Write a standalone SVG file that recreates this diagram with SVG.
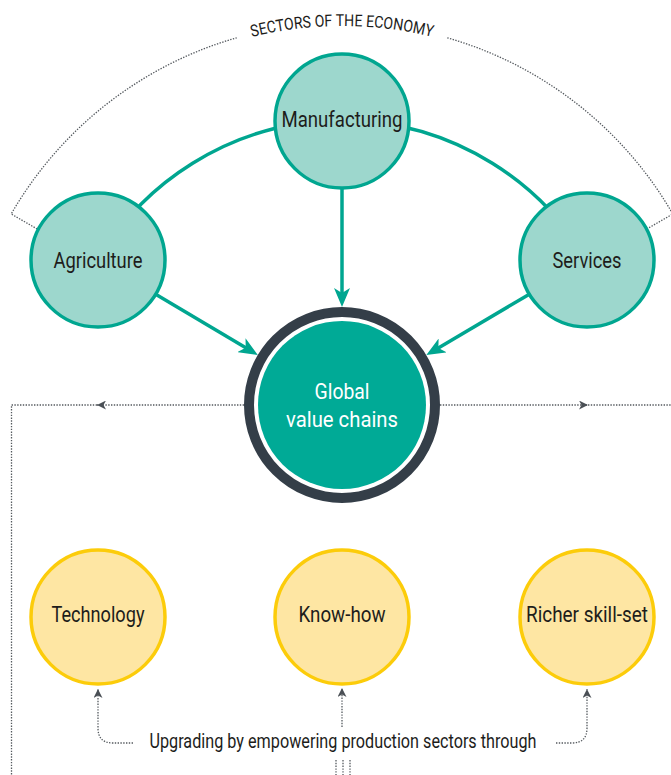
<svg xmlns="http://www.w3.org/2000/svg" width="671" height="775" viewBox="0 0 671 775">
<style>
  .teal { fill: #9dd7cd; stroke: #00a690; stroke-width: 3.5; }
  .yellow { fill: #fee6a3; stroke: #fccc0a; stroke-width: 3.5; }
  .lbl { font-family: Roboto, "Liberation Sans", sans-serif; font-size: 22px; fill: #1d1d1b; text-anchor: middle; }
  .wlbl { font-family: Roboto, "Liberation Sans", sans-serif; font-size: 22px; fill: #ffffff; text-anchor: middle; }
  .conn { fill: none; stroke: #00a690; stroke-width: 3.5; }
  .dot { fill: none; stroke: #555a5f; stroke-width: 1.3; stroke-dasharray: 1.4 1.4; }
</style>
<defs>
  <marker id="tealArrow" markerUnits="userSpaceOnUse" markerWidth="20" markerHeight="16" refX="8" refY="8" orient="auto">
    <path d="M0,0 L19,8 L0,16 L5,8 Z" fill="#00a690"/>
  </marker>
  <marker id="grayArrow" markerUnits="userSpaceOnUse" markerWidth="10" markerHeight="9" refX="9" refY="4.5" orient="auto">
    <path d="M0,0 L9,4.5 L0,9 L2.5,4.5 Z" fill="#4a4f55"/>
  </marker>
  <path id="arcText" d="M 13.8 215.5 A 379 379 0 0 1 670.2 215.5"/>
</defs>

<g id="sectors-bracket">
  <path class="dot" d="M 37.2 229 L 11.2 214 A 382 382 0 0 1 236.7 37.8"/>
  <path class="dot" d="M 447.3 37.8 A 382 382 0 0 1 672.8 214 L 646.8 229"/>
  <text font-family="Roboto, 'Liberation Sans', sans-serif" font-size="16.5" fill="#1d1d1b" text-anchor="middle">
    <textPath href="#arcText" startOffset="50%" textLength="182" lengthAdjust="spacingAndGlyphs">SECTORS OF THE ECONOMY</textPath>
  </text>
</g>

<g id="connectors">
  <path class="conn" d="M 98 260 A 284 284 0 0 1 587 260"/>
  <path class="conn" d="M 342 189 L 342 296" marker-end="url(#tealArrow)"/>
  <path class="conn" d="M 156.5 294.7 L 248.3 349.3" marker-end="url(#tealArrow)"/>
  <path class="conn" d="M 528.5 294.7 L 435.8 349.5" marker-end="url(#tealArrow)"/>
  <path class="dot" d="M 244 405 L 97 405" marker-end="url(#grayArrow)"/>
  <path class="dot" d="M 97 405 L 11.5 405 L 11.5 775"/>
  <path class="dot" d="M 440 405 L 588 405" marker-end="url(#grayArrow)"/>
  <path class="dot" d="M 588 405 L 671 405"/>
  <path class="dot" d="M 133 743 L 113 743 Q 98 743 98 728 L 98 689" marker-end="url(#grayArrow)"/>
  <path class="dot" d="M 342 727 L 342 688" marker-end="url(#grayArrow)"/>
  <path class="dot" d="M 556 743 L 572 743 Q 587 743 587 728 L 587 689" marker-end="url(#grayArrow)"/>
  <path class="dot" d="M 336 760 L 336 775 M 343 760 L 343 775 M 350 760 L 350 775"/>
</g>

<g id="manufacturing">
  <circle class="teal" cx="342" cy="121" r="67"/>
  <text class="lbl" x="342" y="127" textLength="121" lengthAdjust="spacingAndGlyphs">Manufacturing</text>
</g>
<g id="agriculture">
  <circle class="teal" cx="98" cy="260" r="67"/>
  <text class="lbl" x="98" y="268" textLength="89" lengthAdjust="spacingAndGlyphs">Agriculture</text>
</g>
<g id="services">
  <circle class="teal" cx="587" cy="260" r="67"/>
  <text class="lbl" x="587" y="268" textLength="69" lengthAdjust="spacingAndGlyphs">Services</text>
</g>
<g id="global-value-chains">
  <circle cx="342" cy="405" r="93" fill="#ffffff" stroke="#343e48" stroke-width="10"/>
  <circle cx="342" cy="405" r="84" fill="#00aa96"/>
  <text class="wlbl" x="342" y="399" textLength="55" lengthAdjust="spacingAndGlyphs">Global</text>
  <text class="wlbl" x="342" y="427" textLength="112" lengthAdjust="spacingAndGlyphs">value chains</text>
</g>
<g id="technology">
  <circle class="yellow" cx="98" cy="617" r="67"/>
  <text class="lbl" x="98" y="622" textLength="93" lengthAdjust="spacingAndGlyphs">Technology</text>
</g>
<g id="know-how">
  <circle class="yellow" cx="342" cy="617" r="67"/>
  <text class="lbl" x="342" y="622" textLength="87" lengthAdjust="spacingAndGlyphs">Know-how</text>
</g>
<g id="richer-skill-set">
  <circle class="yellow" cx="587" cy="617" r="67"/>
  <text class="lbl" x="587" y="622" textLength="122" lengthAdjust="spacingAndGlyphs">Richer skill-set</text>
</g>
<g id="upgrading-note">
  <text class="lbl" x="343" y="748" style="font-size:20px" textLength="387" lengthAdjust="spacingAndGlyphs">Upgrading by empowering production sectors through</text>
</g>
</svg>
